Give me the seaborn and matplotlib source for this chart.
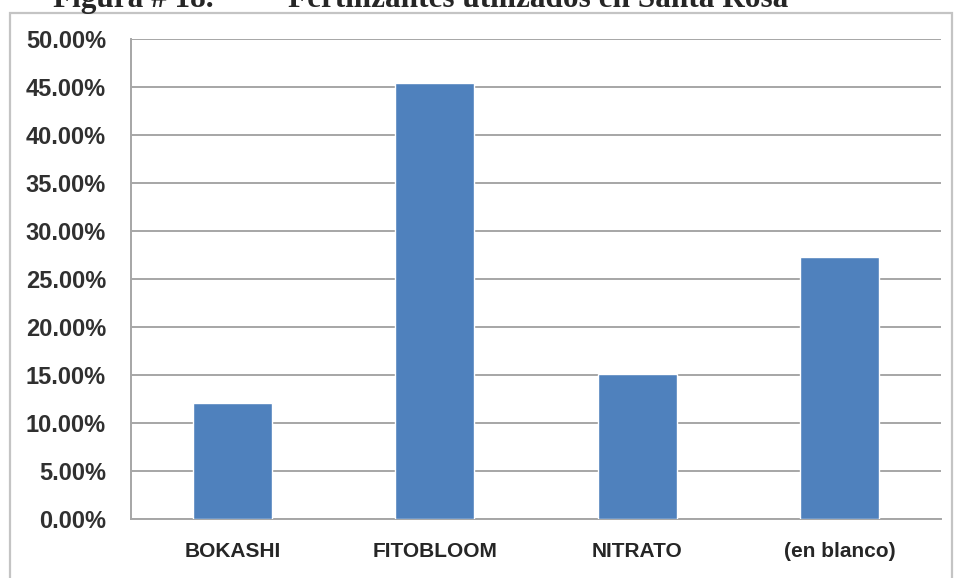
import numpy as np
import pandas as pd
import matplotlib
matplotlib.use("Agg")
import matplotlib.pyplot as plt
import matplotlib.patches as mpatches
from matplotlib.ticker import MultipleLocator, FuncFormatter
import seaborn as sns

# Data
categories = ["BOKASHI", "FITOBLOOM", "NITRATO", "(en blanco)"]
percentages = [12.12, 45.45, 15.15, 27.27]

df = pd.DataFrame({"fertilizante": categories, "porcentaje": percentages})

sns.set_style("white")
plt.rcParams["font.family"] = ["Liberation Sans", "DejaVu Sans"]

fig = plt.figure(figsize=(9.56, 5.78), dpi=100)
ax = fig.add_axes([131 / 956, 1 - 519 / 578, (941 - 131) / 956, (519 - 39) / 578])

sns.barplot(data=df, x="fertilizante", y="porcentaje", color="#4F81BD",
            width=0.39, saturation=1, ax=ax, zorder=3)

ax.set_ylim(0, 50)
ax.set_xlim(-0.5, len(categories) - 0.5)
ax.yaxis.set_major_locator(MultipleLocator(5))
ax.yaxis.set_major_formatter(FuncFormatter(lambda v, p: f"{v:.2f}%"))
ax.grid(axis="y", color="#a6a6a6", linewidth=1.4, zorder=0)
ax.set_axisbelow(True)
ax.set_xlabel("")
ax.set_ylabel("")

for side in ["top", "right"]:
    ax.spines[side].set_visible(False)
for side in ["left", "bottom"]:
    ax.spines[side].set_color("#a6a6a6")
    ax.spines[side].set_linewidth(1.4)

# category-boundary ticks on x, like the original spreadsheet chart
ax.set_xticks(np.arange(len(categories)))
ax.set_xticklabels(categories)
ax.set_xticks(np.arange(len(categories) + 1) - 0.5, minor=True)
ax.tick_params(axis="x", which="major", length=0, pad=16.5, labelsize=15, labelcolor="#262626")
ax.tick_params(axis="x", which="minor", length=8, width=1.4, color="#a6a6a6", direction="out")
ax.tick_params(axis="y", length=8, width=1.4, color="#a6a6a6", direction="out",
               pad=10, labelsize=17, labelcolor="#303030")
for lbl in ax.get_yticklabels() + ax.get_xticklabels():
    lbl.set_fontweight("bold")

# outer chart frame
fig.patches.append(mpatches.Rectangle((10 / 956, -0.01), 942 / 956, 1 - 13 / 578 + 0.01,
                                      transform=fig.transFigure, fill=False,
                                      edgecolor="#c4c4c4", linewidth=1.6))

# caption above the chart (cut off at the top edge in the original)
title_font = ["Liberation Serif", "DejaVu Serif"]
fig.text(53 / 956, 1 - 7 / 578, "Figura # 18.", family=title_font, fontsize=22.5,
         fontweight="bold", va="baseline", ha="left")
fig.text(288 / 956, 1 - 7 / 578, "Fertilizantes utilizados en Santa Rosa", family=title_font,
         fontsize=22.5, fontweight="bold", va="baseline", ha="left")

fig.savefig("out.png", dpi=100)
